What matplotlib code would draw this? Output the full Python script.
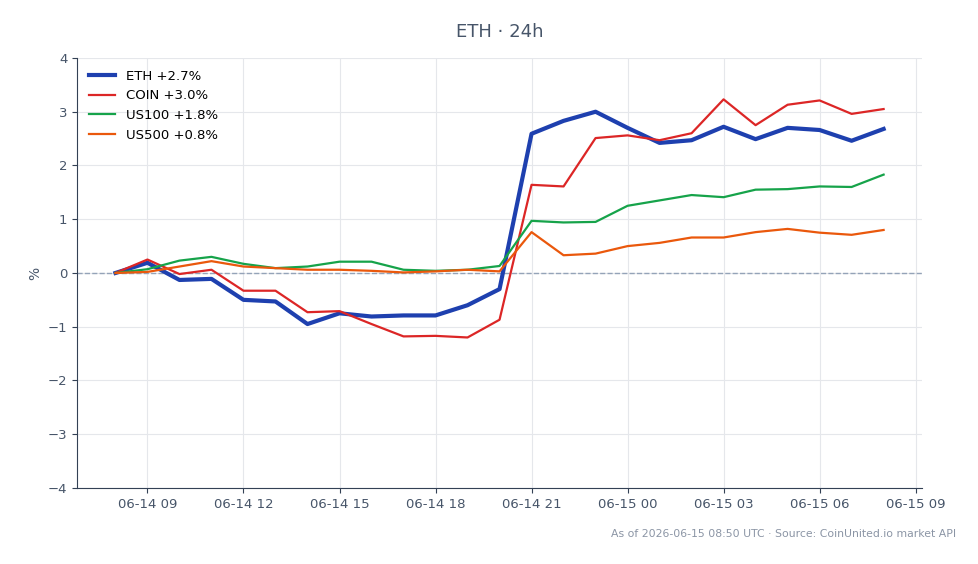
import matplotlib

matplotlib.use("Agg")
import matplotlib.dates as mdates
import pandas as pd
from matplotlib import pyplot as plt

# hourly % change since 06-14 08:00 UTC
times = pd.date_range("2026-06-14 08:00", "2026-06-15 08:00", freq="h")

eth = [0.0, 0.19, -0.13, -0.11, -0.50, -0.53, -0.95, -0.75, -0.81, -0.79, -0.79,
       -0.60, -0.30, 2.59, 2.83, 3.00, 2.70, 2.42, 2.47, 2.72, 2.49, 2.70, 2.66,
       2.46, 2.68]
coin = [0.0, 0.25, -0.02, 0.06, -0.33, -0.33, -0.73, -0.71, -0.95, -1.18, -1.17,
        -1.20, -0.87, 1.64, 1.61, 2.51, 2.56, 2.47, 2.60, 3.23, 2.75, 3.13, 3.21,
        2.96, 3.05]
us100 = [0.0, 0.07, 0.23, 0.30, 0.17, 0.09, 0.12, 0.21, 0.21, 0.06, 0.04, 0.06,
         0.13, 0.97, 0.94, 0.95, 1.25, 1.35, 1.45, 1.41, 1.55, 1.56, 1.61, 1.60,
         1.83]
us500 = [0.0, 0.02, 0.12, 0.22, 0.12, 0.09, 0.06, 0.06, 0.04, 0.01, 0.03, 0.06,
         0.03, 0.76, 0.33, 0.36, 0.50, 0.56, 0.66, 0.66, 0.76, 0.82, 0.75, 0.71,
         0.80]

series = [
    ("ETH", eth, "#1e40af", 3.0),
    ("COIN", coin, "#dc2626", 1.6),
    ("US100", us100, "#16a34a", 1.6),
    ("US500", us500, "#ea580c", 1.6),
]

text_color = "#475569"
axis_color = "#334155"

fig = plt.figure(figsize=(9.79, 5.64), dpi=100)
ax = fig.add_axes([0.0787, 0.1348, 0.8631, 0.7624])

for name, values, color, lw in series:
    ax.plot(times, values, color=color, linewidth=lw,
            label="%s %+.1f%%" % (name, values[-1]))

ax.axhline(0, color="#94a3b8", linestyle="--", linewidth=1, zorder=1)

ax.set_ylim(-4, 4)
ax.xaxis.set_major_locator(mdates.HourLocator(byhour=range(0, 24, 3)))
ax.xaxis.set_major_formatter(mdates.DateFormatter("%m-%d %H"))

ax.grid(True, color="#e5e7eb", linewidth=0.8)
ax.set_axisbelow(True)
for side in ("top", "right"):
    ax.spines[side].set_visible(False)
for side in ("left", "bottom"):
    ax.spines[side].set_color(axis_color)
ax.tick_params(colors=axis_color, labelcolor=text_color, labelsize=9.5)

ax.set_ylabel("%", color=text_color, fontsize=10)
ax.set_title("ETH · 24h", color=text_color, fontsize=13, pad=15)

ax.legend(loc="upper left", frameon=False, fontsize=9.5)

fig.text(0.977, 0.045, "As of 2026-06-15 08:50 UTC · Source: CoinUnited.io market API",
         ha="right", va="bottom", color="#8b95a5", fontsize=7.8)

fig.savefig("out.png", dpi=100)
